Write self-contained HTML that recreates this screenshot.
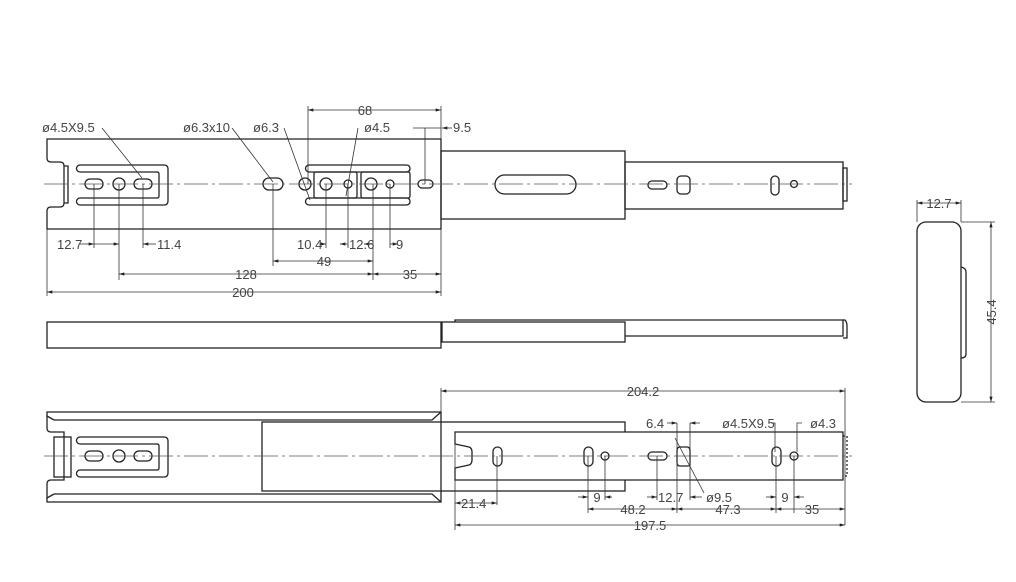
<!DOCTYPE html>
<html><head><meta charset="utf-8"><style>
html,body{margin:0;padding:0;background:#fff;}
svg{display:block;}
text{font-family:"Liberation Sans",sans-serif;font-size:13px;fill:#444;}
</style></head><body>
<svg width="1016" height="582" viewBox="0 0 1016 582" xmlns="http://www.w3.org/2000/svg">
<defs>
<marker id="a" viewBox="0 0 10 6" refX="10" refY="3" markerWidth="8" markerHeight="4" orient="auto-start-reverse"><path d="M0 0L10 3L0 6z" fill="#222"/></marker>
</defs>
<g fill="none" stroke="#222" stroke-width="1.3">
<!-- TOP VIEW -->
<path d="M47 139H441V229H47V211Q47 207 51 207H60Q64 207 64 203V166Q64 162 60 162H51Q47 162 47 158Z"/>
<path d="M64 166H68V203H64"/>
<path d="M80 165H164Q168 165 168 169V201Q168 205 164 205H80A3.5 3.5 0 0 1 80 198H157Q159 198 159 196V174Q159 172 157 172H80A3.5 3.5 0 0 1 80 165Z"/>
<rect x="85" y="179" width="18" height="10" rx="5"/>
<circle cx="119" cy="184" r="6"/>
<rect x="134" y="179" width="18" height="10" rx="5"/>
<rect x="263" y="178" width="20" height="12" rx="6"/>
<circle cx="305" cy="184" r="6"/>
<circle cx="326" cy="184" r="6"/>
<circle cx="348" cy="184" r="4"/>
<path d="M309 165H406Q410 165 410 168.5Q410 172 406 172H309A3.5 3.5 0 0 1 309 165Z"/>
<path d="M309 198H406Q410 198 410 201.5Q410 205 406 205H309A3.5 3.5 0 0 1 309 198Z"/>
<rect x="314" y="172" width="43" height="26" rx="2"/>
<rect x="361" y="172" width="49" height="26" rx="2"/>
<circle cx="371" cy="184" r="6"/>
<circle cx="390" cy="184" r="4"/>
<rect x="418" y="180" width="15" height="8" rx="4"/>
<rect x="441" y="151" width="184" height="68"/>
<rect x="495" y="175" width="81" height="19" rx="9.5"/>
<rect x="625" y="162" width="218" height="47"/>
<rect x="843" y="168" width="4" height="33"/>
<rect x="648" y="181" width="19" height="8" rx="4"/>
<rect x="677" y="176" width="13" height="18" rx="4"/>
<rect x="771" y="176" width="8" height="19" rx="4"/>
<circle cx="794" cy="184" r="3.5"/>
<!-- SIDE VIEW -->
<rect x="47" y="322" width="394" height="26"/>
<rect x="442" y="322" width="183" height="20"/>
<path d="M455 322V320H843V336H625"/>
<path d="M843 320H845Q847 322 847 326V338H843"/>
<!-- BOTTOM VIEW -->
<path d="M47 412H441V502H47V484Q47 480 51 480H64V432H51Q47 432 47 428Z"/>
<path d="M54 420H432L441 412M54 420L47 416M54 494H432L441 502M54 494L47 498"/>
<rect x="54" y="437" width="17" height="40"/>
<path d="M80 437H164Q168 437 168 441V473Q168 477 164 477H80A3.5 3.5 0 0 1 80 470H157Q159 470 159 468V446Q159 444 157 444H80A3.5 3.5 0 0 1 80 437Z"/>
<rect x="85" y="451" width="18" height="10" rx="5"/>
<circle cx="119" cy="456" r="6"/>
<rect x="134" y="451" width="18" height="10" rx="5"/>
<rect x="262" y="422" width="363" height="69"/>
<path d="M455 432H843V480H455V468L469 465Q472 464 472 460V452Q472 448 469 447L455 444Z" fill="#fff"/>
<path d="M843 436H847V476H843" stroke-dasharray="2 2"/>
<rect x="493" y="447" width="9" height="19" rx="4.5"/>
<rect x="584" y="447" width="9" height="19" rx="4.5"/>
<circle cx="605" cy="456" r="4"/>
<rect x="648" y="452" width="19" height="8" rx="4"/>
<path d="M680 447H687Q690 447 690 451V465Q690 466 687 466H680Q677 466 677 462V451Q677 447 680 447Z"/>
<rect x="772" y="447" width="9" height="19" rx="4.5"/>
<circle cx="794" cy="456" r="4"/>
<!-- END VIEW -->
<rect x="917" y="222" width="44" height="180" rx="9"/>
<path d="M961 267Q966 268 966 272V354Q966 358 961 358"/>
</g>
<!-- centerlines -->
<g stroke="#555" stroke-width="0.8" stroke-dasharray="24 4 3 4" fill="none">
<path d="M44 184H852"/><path d="M44 456H852"/>
</g>
<!-- dimension lines -->
<g stroke="#333" stroke-width="0.8" fill="none">
<path d="M308 106V184M441 106V139"/>
<path d="M308 110H441" marker-start="url(#a)" marker-end="url(#a)"/>
<path d="M102 128L142 178M232 128L273 182M284 128L310 200M358 128L346 196M413 128H441M425 128V184"/>
<path d="M442 128H452" marker-start="url(#a)"/>
<path d="M94 184V248M119 184V280M143 184V248M273 184V266M326 184V248M348 184V248M373 184V280M390 184V248M47 229V296M441 229V296"/>
<path d="M80 244H94" marker-end="url(#a)"/><path d="M94 244H119" marker-end="url(#a)"/><path d="M156 244H143" marker-end="url(#a)"/>
<path d="M320 244H326" marker-end="url(#a)"/><path d="M348 244H340" marker-end="url(#a)"/>
<path d="M373 244H364" marker-end="url(#a)"/><path d="M390 244H398" marker-end="url(#a)"/>
<path d="M273 261H373" marker-start="url(#a)" marker-end="url(#a)"/>
<path d="M119 274H373" marker-start="url(#a)" marker-end="url(#a)"/>
<path d="M373 274H441" marker-start="url(#a)" marker-end="url(#a)"/>
<path d="M47 292H441" marker-start="url(#a)" marker-end="url(#a)"/>
<!-- bottom dims -->
<path d="M441 388V412M845 388V525M455 432V530"/>
<path d="M441 391H845" marker-start="url(#a)" marker-end="url(#a)"/>
<path d="M455 525H845" marker-start="url(#a)" marker-end="url(#a)"/>
<path d="M497 456V505M588 456V513M605 456V500M657 456V500M677 423V513M690 423V500M776 456V513M794 456V513"/>
<path d="M455 503H497" marker-start="url(#a)" marker-end="url(#a)"/>
<path d="M578 497H588" marker-end="url(#a)"/><path d="M612 497H605" marker-end="url(#a)"/>
<path d="M647 497H657" marker-end="url(#a)"/><path d="M702 497H690" marker-end="url(#a)"/>
<path d="M766 497H776" marker-end="url(#a)"/><path d="M804 497H794" marker-end="url(#a)"/>
<path d="M588 509H677" marker-start="url(#a)" marker-end="url(#a)"/>
<path d="M677 509H776" marker-start="url(#a)" marker-end="url(#a)"/>
<path d="M776 509H845" marker-start="url(#a)" marker-end="url(#a)"/>
<path d="M667 423H677" marker-end="url(#a)"/><path d="M700 423H690" marker-end="url(#a)"/>
<path d="M675 438L704 493"/>
<path d="M771 423H775V452M802 423H797V452"/>
<!-- end view dims -->
<path d="M917 200V222M961 200V222"/>
<path d="M917 203H961" marker-start="url(#a)" marker-end="url(#a)"/>
<path d="M961 222H995M961 402H995"/>
<path d="M991 222V402" marker-start="url(#a)" marker-end="url(#a)"/>
</g>
<g>
<text x="365" y="115" text-anchor="middle" style="fill:#444">68</text>
<text x="42" y="132">ø4.5X9.5</text>
<text x="183" y="132">ø6.3x10</text>
<text x="253" y="132">ø6.3</text>
<text x="364" y="132">ø4.5</text>
<text x="453" y="132">9.5</text>
<text x="57" y="249">12.7</text>
<text x="157" y="249">11.4</text>
<text x="297" y="249">10.4</text>
<text x="349" y="249">12.6</text>
<text x="396" y="249">9</text>
<text x="324" y="266" text-anchor="middle">49</text>
<text x="246" y="279" text-anchor="middle">128</text>
<text x="410" y="279" text-anchor="middle">35</text>
<text x="243" y="297" text-anchor="middle">200</text>
<text x="643" y="396" text-anchor="middle">204.2</text>
<text x="646" y="428">6.4</text>
<text x="722" y="428">ø4.5X9.5</text>
<text x="810" y="428">ø4.3</text>
<text x="461" y="508">21.4</text>
<text x="597" y="502" text-anchor="middle">9</text>
<text x="658" y="502">12.7</text>
<text x="706" y="502">ø9.5</text>
<text x="785" y="502" text-anchor="middle">9</text>
<text x="633" y="514" text-anchor="middle">48.2</text>
<text x="728" y="514" text-anchor="middle">47.3</text>
<text x="812" y="514" text-anchor="middle">35</text>
<text x="650" y="530" text-anchor="middle">197.5</text>
<text x="939" y="208" text-anchor="middle">12.7</text>
<text transform="translate(996 312) rotate(-90)" text-anchor="middle">45.4</text>
</g>
</svg>
</body></html>
